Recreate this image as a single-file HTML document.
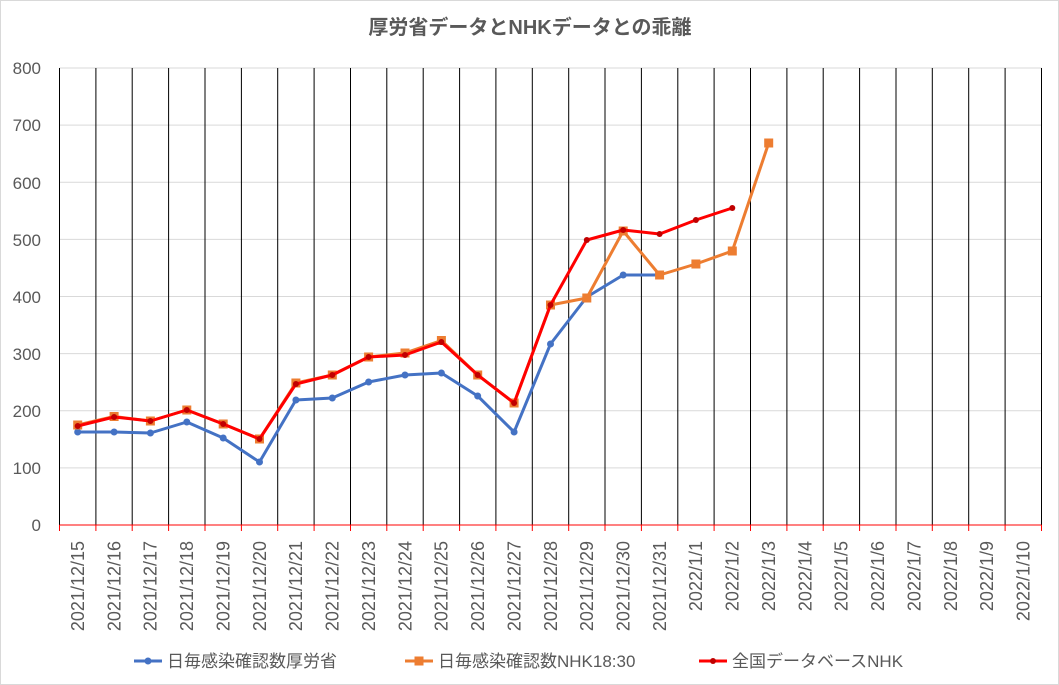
<!DOCTYPE html>
<html><head><meta charset="utf-8"><style>
body{margin:0;background:#fff}
svg{display:block;font-family:"Liberation Sans","Noto Sans CJK JP",sans-serif}
</style></head><body>
<svg width="1059" height="685" viewBox="0 0 1059 685">
<rect x="0.5" y="0.5" width="1058" height="684" fill="#fff" stroke="#d9d9d9"/>
<text x="530" y="34" text-anchor="middle" font-size="20" font-weight="bold" fill="#595959">厚労省データとNHKデータとの乖離</text>
<g stroke="#d9d9d9" stroke-width="1">
<line x1="59.5" x2="1041.5" y1="467.9" y2="467.9"/><line x1="59.5" x2="1041.5" y1="410.8" y2="410.8"/>
<line x1="59.5" x2="1041.5" y1="353.6" y2="353.6"/><line x1="59.5" x2="1041.5" y1="296.5" y2="296.5"/>
<line x1="59.5" x2="1041.5" y1="239.4" y2="239.4"/><line x1="59.5" x2="1041.5" y1="182.3" y2="182.3"/>
<line x1="59.5" x2="1041.5" y1="125.1" y2="125.1"/><line x1="59.5" x2="1041.5" y1="68" y2="68"/>
</g>
<g stroke="#000" stroke-width="1">
<path d="M59.5 68V525M95.9 68V525M132.2 68V525M168.6 68V525M205 68V525M241.4 68V525M277.7 68V525M314.1 68V525M350.5 68V525M386.8 68V525M423.2 68V525M459.6 68V525M495.9 68V525M532.3 68V525M568.7 68V525M605 68V525M641.4 68V525M677.8 68V525M714.1 68V525M750.5 68V525M786.9 68V525M823.2 68V525M859.6 68V525M896 68V525M932.3 68V525M968.7 68V525M1005.1 68V525M1041.5 68V525"/>
</g>
<g stroke="#ff0000" stroke-width="1">
<line x1="59.5" x2="1041.5" y1="525" y2="525"/>
<path d="M59.5 525V531M95.9 525V531M132.2 525V531M168.6 525V531M205 525V531M241.4 525V531M277.7 525V531M314.1 525V531M350.5 525V531M386.8 525V531M423.2 525V531M459.6 525V531M495.9 525V531M532.3 525V531M568.7 525V531M605 525V531M641.4 525V531M677.8 525V531M714.1 525V531M750.5 525V531M786.9 525V531M823.2 525V531M859.6 525V531M896 525V531M932.3 525V531M968.7 525V531M1005.1 525V531M1041.5 525V531"/>
</g>
<g font-size="17" fill="#595959" text-anchor="end">
<text x="41" y="531">0</text><text x="41" y="474">100</text><text x="41" y="417">200</text><text x="41" y="360">300</text>
<text x="41" y="303">400</text><text x="41" y="246">500</text><text x="41" y="189">600</text><text x="41" y="131">700</text><text x="41" y="74">800</text>
</g>
<g font-size="18" fill="#595959" text-anchor="end">
<text transform="translate(84,541) rotate(-90)">2021/12/15</text>
<text transform="translate(120.4,541) rotate(-90)">2021/12/16</text>
<text transform="translate(156.7,541) rotate(-90)">2021/12/17</text>
<text transform="translate(193.1,541) rotate(-90)">2021/12/18</text>
<text transform="translate(229.5,541) rotate(-90)">2021/12/19</text>
<text transform="translate(265.8,541) rotate(-90)">2021/12/20</text>
<text transform="translate(302.2,541) rotate(-90)">2021/12/21</text>
<text transform="translate(338.6,541) rotate(-90)">2021/12/22</text>
<text transform="translate(374.9,541) rotate(-90)">2021/12/23</text>
<text transform="translate(411.3,541) rotate(-90)">2021/12/24</text>
<text transform="translate(447.7,541) rotate(-90)">2021/12/25</text>
<text transform="translate(484,541) rotate(-90)">2021/12/26</text>
<text transform="translate(520.4,541) rotate(-90)">2021/12/27</text>
<text transform="translate(556.8,541) rotate(-90)">2021/12/28</text>
<text transform="translate(593.1,541) rotate(-90)">2021/12/29</text>
<text transform="translate(629.5,541) rotate(-90)">2021/12/30</text>
<text transform="translate(665.9,541) rotate(-90)">2021/12/31</text>
<text transform="translate(702.2,541) rotate(-90)">2022/1/1</text>
<text transform="translate(738.6,541) rotate(-90)">2022/1/2</text>
<text transform="translate(775,541) rotate(-90)">2022/1/3</text>
<text transform="translate(811.3,541) rotate(-90)">2022/1/4</text>
<text transform="translate(847.7,541) rotate(-90)">2022/1/5</text>
<text transform="translate(884.1,541) rotate(-90)">2022/1/6</text>
<text transform="translate(920.4,541) rotate(-90)">2022/1/7</text>
<text transform="translate(956.8,541) rotate(-90)">2022/1/8</text>
<text transform="translate(993.2,541) rotate(-90)">2022/1/9</text>
<text transform="translate(1029.5,541) rotate(-90)">2022/1/10</text>
</g>
<polyline fill="none" stroke="#4472c4" stroke-width="3" stroke-linejoin="round" points="77.7,432 114.1,432 150.4,433 186.8,422 223.2,438 259.5,462 295.9,400 332.3,398 368.6,382 405,375 441.4,373 477.7,396 514.1,432 550.5,344 586.8,297 623.2,275 659.6,275"/>
<g fill="#4472c4">
<circle cx="77.7" cy="432" r="3.5"/><circle cx="114.1" cy="432" r="3.5"/><circle cx="150.4" cy="433" r="3.5"/><circle cx="186.8" cy="422" r="3.5"/><circle cx="223.2" cy="438" r="3.5"/><circle cx="259.5" cy="462" r="3.5"/><circle cx="295.9" cy="400" r="3.5"/><circle cx="332.3" cy="398" r="3.5"/><circle cx="368.6" cy="382" r="3.5"/><circle cx="405" cy="375" r="3.5"/><circle cx="441.4" cy="373" r="3.5"/><circle cx="477.7" cy="396" r="3.5"/><circle cx="514.1" cy="432" r="3.5"/><circle cx="550.5" cy="344" r="3.5"/><circle cx="586.8" cy="297" r="3.5"/><circle cx="623.2" cy="275" r="3.5"/><circle cx="659.6" cy="275" r="3.5"/>
</g>
<polyline fill="none" stroke="#ed7d31" stroke-width="3" stroke-linejoin="round" points="77.7,425 114.1,416.5 150.4,421 186.8,410 223.2,424 259.5,439 295.9,383 332.3,375 368.6,357 405,353 441.4,340.5 477.7,375 514.1,403 550.5,305 586.8,298 623.2,231 659.6,275 695.9,264 732.3,251 768.7,143"/>
<g fill="#ed7d31">
<rect x="73.2" y="420.5" width="9" height="9"/><rect x="109.6" y="412" width="9" height="9"/><rect x="145.9" y="416.5" width="9" height="9"/><rect x="182.3" y="405.5" width="9" height="9"/><rect x="218.7" y="419.5" width="9" height="9"/><rect x="255" y="434.5" width="9" height="9"/><rect x="291.4" y="378.5" width="9" height="9"/><rect x="327.8" y="370.5" width="9" height="9"/><rect x="364.1" y="352.5" width="9" height="9"/><rect x="400.5" y="348.5" width="9" height="9"/><rect x="436.9" y="336" width="9" height="9"/><rect x="473.2" y="370.5" width="9" height="9"/><rect x="509.6" y="398.5" width="9" height="9"/><rect x="546" y="300.5" width="9" height="9"/><rect x="582.3" y="293.5" width="9" height="9"/><rect x="618.7" y="226.5" width="9" height="9"/><rect x="655.1" y="270.5" width="9" height="9"/><rect x="691.4" y="259.5" width="9" height="9"/><rect x="727.8" y="246.5" width="9" height="9"/><rect x="764.2" y="138.5" width="9" height="9"/>
</g>
<polyline fill="none" stroke="#ff0000" stroke-width="3" stroke-linejoin="round" points="77.7,426 114.1,417 150.4,421 186.8,410 223.2,424 259.5,439 295.9,384 332.3,375 368.6,357 405,355 441.4,342 477.7,375 514.1,403 550.5,305 586.8,240 623.2,230 659.6,234 695.9,220 732.3,208"/>
<g fill="#c00000">
<circle cx="77.7" cy="426" r="3"/><circle cx="114.1" cy="417" r="3"/><circle cx="150.4" cy="421" r="3"/><circle cx="186.8" cy="410" r="3"/><circle cx="223.2" cy="424" r="3"/><circle cx="259.5" cy="439" r="3"/><circle cx="295.9" cy="384" r="3"/><circle cx="332.3" cy="375" r="3"/><circle cx="368.6" cy="357" r="3"/><circle cx="405" cy="355" r="3"/><circle cx="441.4" cy="342" r="3"/><circle cx="477.7" cy="375" r="3"/><circle cx="514.1" cy="403" r="3"/><circle cx="550.5" cy="305" r="3"/><circle cx="586.8" cy="240" r="3"/><circle cx="623.2" cy="230" r="3"/><circle cx="659.6" cy="234" r="3"/><circle cx="695.9" cy="220" r="3"/><circle cx="732.3" cy="208" r="3"/>
</g>
<g font-size="17" fill="#595959">
<line x1="134" x2="162" y1="661" y2="661" stroke="#4472c4" stroke-width="3"/><circle cx="148" cy="661" r="3.5" fill="#4472c4"/>
<text x="167" y="667">日毎感染確認数厚労省</text>
<line x1="405" x2="433" y1="661" y2="661" stroke="#ed7d31" stroke-width="3"/><rect x="414.5" y="656.5" width="9" height="9" fill="#ed7d31"/>
<text x="438" y="667">日毎感染確認数NHK18:30</text>
<line x1="699" x2="727" y1="661" y2="661" stroke="#ff0000" stroke-width="3"/><circle cx="713" cy="661" r="3" fill="#c00000"/>
<text x="732" y="667">全国データベースNHK</text>
</g>
</svg>
</body></html>
